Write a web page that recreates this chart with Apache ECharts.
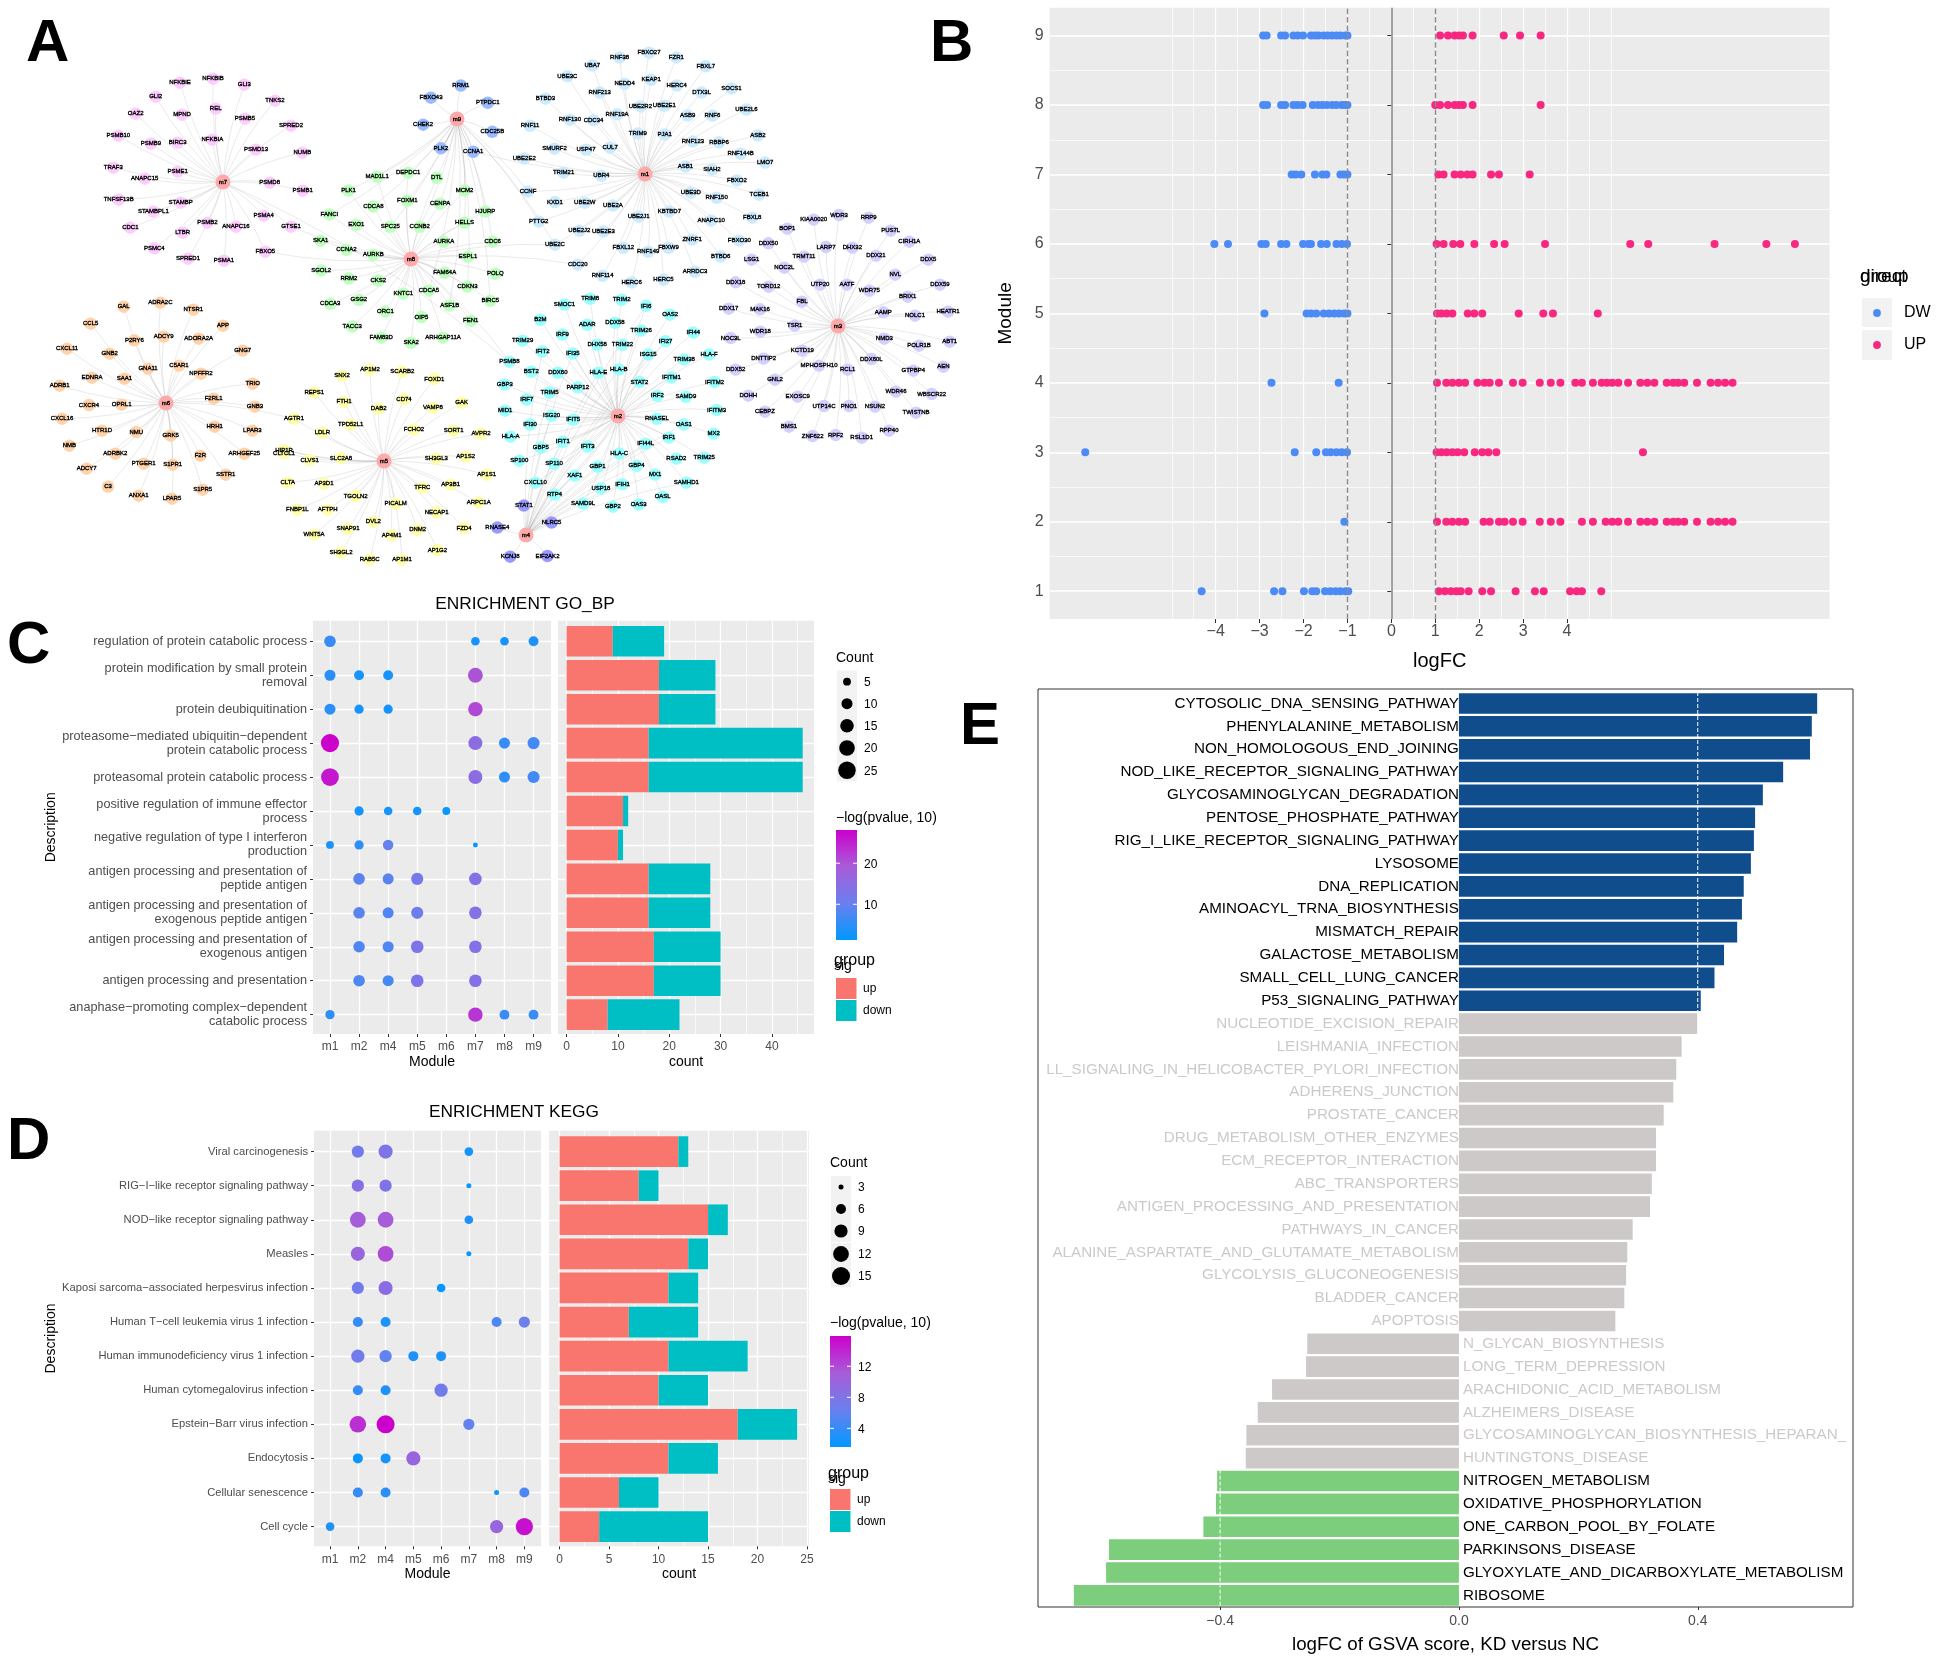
<!DOCTYPE html>
<html><head><meta charset="utf-8">
<style>html,body{margin:0;padding:0;background:#fff}#c{width:1939px;height:1662px}</style>
<script src="https://cdn.jsdelivr.net/npm/echarts@6/dist/echarts.min.js"></script>
</head><body><div id="c"></div>
<script>
const hubs={m1:[645,174],m2:[618,416],m3:[838,326],m4:[526,535],m5:[384,461],m6:[166,403],m7:[223,182],m8:[411,259],m9:[457,119]};
const m7Nodes=[['NFKBIE',540,248],['NFKBIB',639,236],['GLI3',733,254],['TNKS2',825,302],['GLI2',467,290],['REL',647,326],['MPND',546,344],['PSMB5',735,356],['OAZ2',407,341],['SPRED2',873,377],['PSMB10',355,407],['PSMB9',453,431],['BIRC3',533,428],['NFKBIA',637,419],['PSMD13',768,449],['NUMB',907,458],['TRAF3',340,503],['PSME1',533,515],['ANAPC15',434,536],['PSMD8',809,548],['PSMB1',908,572],['TNFSF13B',356,599],['STAMBP',542,608],['STAMBPL1',460,635],['PSMB2',622,668],['PSMA4',791,647],['GTSE1',873,680],['ANAPC16',708,680],['CDC1',391,683],['LTBR',548,698],['PSMC4',463,745],['SPRED1',564,776],['PSMA1',672,782],['FBXO5',796,755]];
const m9Nodes=[['RRM1',388,105],['FBXO43',316,141],['PTPDC1',453,156],['CHEK2',297,221],['CDC25B',464,242],['PLK2',340,291],['CCNA1',418,301]];
const m8Nodes=[['MAD1L1',186,375],['DEPDC1',261,363],['DTL',330,378],['PLK1',117,416],['MCM2',397,416],['FOXM1',259,446],['CENPA',338,455],['CDCA8',177,463],['FANCI',71,487],['HJURP',447,478],['EXO1',136,517],['SPC25',218,523],['CCNB2',289,523],['HELLS',397,511],['SKA1',50,564],['AURKA',347,567],['CDC6',465,567],['CCNA2',112,591],['AURKB',177,606],['ESPL1',405,611],['SGOL2',51,652],['RRM2',118,676],['CKS2',189,682],['FAM64A',349,659],['POLQ',471,662],['CDKN3',404,700],['KNTC1',249,721],['CDCA5',311,712],['BIRC5',459,742],['CDCA3',73,751],['GSG2',142,739],['ASF1B',361,756],['ORC1',206,774],['OIP5',293,790],['FEN1',412,801],['TACC3',126,818],['FAM83D',196,851],['SKA2',268,866],['ARHGAP11A',345,851]];
const m1Nodes=[['FBXO27',842,8],['RNF38',771,22],['FZR1',908,22],['UBA7',705,46],['FBXL7',979,48],['UBE3C',645,78],['KEAP1',847,88],['NEDD4',783,100],['HERC4',909,105],['SOCS1',1041,114],['RNF213',723,126],['DTX3L',969,126],['BTBD3',592,144],['UBE2R2',821,167],['UBE2E1',879,165],['UBE2L6',1077,176],['RNF130',651,206],['CDC34',708,208],['RNF19A',765,190],['ASB9',935,194],['RNF6',995,194],['RNF11',555,224],['TRIM9',815,247],['PJA1',880,250],['ASB2',1105,253],['RNF123',948,271],['RBBP6',1011,273],['SMURF2',614,292],['USP47',690,295],['CUL7',748,289],['RNF144B',1063,307],['UBE2E2',541,321],['LMO7',1122,333],['ASB1',930,345],['SIAH2',994,354],['TRIM21',636,363],['UBR4',727,372],['FBXO2',1054,386],['UBE3D',943,422],['RNF150',1005,437],['TCEB1',1108,428],['CCNF',550,419],['KXD1',615,450],['UBE2W',687,452],['UBE2A',755,460],['KBTBD7',891,478],['UBE2J1',817,493],['FBXL8',1091,496],['ANAPC10',992,505],['PTTG2',576,508],['UBE2J2',674,535],['UBE2E3',732,537],['ZNRF1',946,561],['FBXO30',1060,564],['UBE2C',615,576],['FBXL12',780,585],['RNF149',840,597],['FBXW9',889,585],['BTBD6',1015,611],['CDC20',670,635],['ARRDC3',953,656],['RNF114',730,668],['HERC6',800,688],['HERC5',877,680]];
const m3Nodes=[['WDR3',357,75],['KIAA0020',281,89],['RRP9',446,83],['BOP1',202,116],['PUS7L',512,122],['CIRH1A',568,155],['DDX50',145,160],['LARP7',318,171],['DHX32',397,173],['DDX21',468,197],['TRMT11',252,200],['LSG1',95,209],['DDX5',625,209],['NOC2L',193,233],['NVL',526,254],['DDX18',47,277],['UTP20',300,284],['AATF',381,284],['DDX59',660,284],['TORD12',146,290],['WDR75',448,302],['BRIX1',563,320],['FBL',246,335],['DDX17',26,356],['MAK16',120,358],['AAMP',490,367],['HEATR1',684,365],['NOLC1',585,377],['TSR1',224,407],['WDR18',121,425],['NMD3',493,446],['NOC3L',32,444],['ABT1',689,455],['POLR1B',597,467],['KCTD19',247,482],['DNTTIP2',131,506],['DDX60L',454,507],['MPHOSPH10',297,527],['RCL1',383,539],['GTPBP4',580,542],['AEN',670,530],['DDX52',47,539],['GNL2',165,569],['EXOSC9',233,620],['WDR46',528,605],['WBSCR22',635,612],['DOHH',85,617],['UTP14C',312,648],['PNO1',387,648],['NSUN2',465,650],['CEBPZ',135,665],['TWISTNB',588,668],['BMS1',207,710],['RPP40',507,722],['ZNF622',278,738],['RPF2',347,735],['RSL1D1',425,743]];
const m2Nodes=[['TRIM8',700,736],['TRIM2',776,739],['SMOC1',638,753],['IFI6',835,757],['OAS2',893,783],['B2M',580,798],['ADAR',693,813],['DDX58',760,807],['TRIM26',823,830],['IFI44',949,836],['IRF9',633,842],['TRIM29',537,860],['DHX58',717,872],['TRIM22',778,872],['IFI27',882,862],['IFIT2',585,892],['IFI35',658,898],['ISG15',840,901],['HLA-F',987,901],['TRIM38',927,916],['PSMB8',505,922],['BST2',558,952],['DDX60',622,955],['HLA-E',720,955],['HLA-B',769,945],['IFITM1',896,969],['STAT2',819,982],['IFITM2',1000,982],['GBP3',494,990],['PARP12',670,998],['TRIM5',602,1014],['IRF2',862,1023],['SAMD9',931,1026],['IRF7',547,1034],['MID1',495,1067],['IFITM3',1005,1065],['ISG20',607,1082],['IFIT5',659,1094],['RNASEL',861,1091],['OAS1',926,1108],['IFI30',555,1108],['HLA-A',508,1144],['MX2',998,1135],['IFIT1',634,1159],['IFI44L',834,1165],['IRF1',890,1147],['IFIT3',694,1173],['GBP5',581,1176],['HLA-C',770,1194],['RSAD2',908,1209],['TRIM25',975,1206],['SP100',529,1215],['SP110',613,1224],['GBP1',718,1233],['GBP4',812,1230],['XAF1',663,1259],['MX1',857,1256],['CXCL10',568,1280],['SAMHD1',932,1280],['IFIH1',778,1285],['USP18',726,1297],['RTP4',614,1315],['OASL',875,1322],['SAMD9L',683,1342],['GBP2',755,1351],['OAS3',817,1345]];
const m4Nodes=[['STAT1',540,1348],['RNASE4',476,1413],['NLRC5',607,1398],['KCNJ8',507,1499],['EIF2AK2',597,1497]];
const m5Nodes=[['AP1M2',330,89],['SNX2',246,107],['SCARB2',427,95],['FOXD1',523,117],['REPS1',163,158],['FTH1',252,185],['CD74',432,178],['DAB2',356,206],['VAMP8',519,203],['GAK',605,188],['TPD52L1',272,254],['AGTR1',102,236],['LDLR',187,278],['FCHO2',462,269],['SORT1',581,272],['AVPR2',663,281],['HIP1R',72,330],['CLTCL1',72,340],['CLVS1',149,360],['SLC2A8',243,354],['SH3GL3',529,356],['AP1S2',617,350],['AP1S1',680,404],['CLTA',83,428],['AP3D1',192,431],['AP3B1',572,434],['TFRC',487,443],['TGOLN2',287,468],['ARPC1A',656,488],['PICALM',407,491],['NECAP1',530,517],['FNBP1L',112,509],['AFTPH',203,509],['DVL2',340,545],['SNAP91',264,566],['FZD4',612,564],['DNM2',473,569],['AP4M1',395,586],['WNT5A',162,584],['AP1G2',532,630],['SH3GL2',243,638],['RAB5C',329,659],['AP1M1',426,659]];
const m6Nodes=[['GAL',371,80],['ADRA2C',481,68],['NTSR1',580,89],['APP',669,137],['CCL5',272,131],['P2RY6',403,181],['ADCY9',491,170],['ADORA2A',596,176],['GNG7',728,212],['CXCL11',201,206],['GNB2',329,221],['GNA11',444,266],['C5AR1',537,257],['NPFFR2',603,281],['EDNRA',276,293],['SAA1',373,296],['TRIO',758,311],['ADRB1',179,317],['F2RL1',641,356],['OPRL1',365,374],['CXCR4',267,375],['GNB3',765,380],['CXCL16',186,416],['HRH1',644,440],['LPAR3',757,452],['HTR1D',306,452],['NMU',409,456],['GRK5',512,467],['NMB',208,497],['ADRBK2',346,521],['F2R',601,527],['ARHGEF25',733,521],['PTGER1',431,551],['S1PR1',518,554],['ADCY7',260,566],['SSTR1',677,584],['C3',324,620],['S1PR5',608,629],['ANXA1',416,647],['LPAR5',516,656]];
const m9ToM8=['DTL','MCM2','FOXM1','CENPA','HELLS','DEPDC1','PLK1','MAD1L1','CCNB2','SPC25','ASF1B','CDC6','CDKN3','CDCA5','BIRC5','HJURP','CCNA1','PLK2','CDCA8','FANCI'];
const m4ToM2=['RTP4','SP110','IFIT1','IFIT3','ISG20','TRIM5','USP18','GBP1','XAF1','HLA-C','MX1','SAMHD1','IFIH1','IFI44L','IRF1','GBP4','OAS1','STAT2','HLA-B','HLA-E','ISG15','IFITM1','IFI27','IFI6','IFIT2','IFI35'];
const otherEdges=[['GTSE1','m8'],['FBXO5','m8'],['UBE2C','m8'],['CDC20','m8'],['CCNF','m9'],['PTTG2','m9'],['UBE2C','m9'],['PSMB8','m8'],['AGTR1','m6'],['HIP1R','m5'],['PSMB8','m7'],['CCNA1','m1']];

// ---------- Panel B: logFC per module
const bRows=[1,2,3,4,5,6,7,8,9];
const bDW={
 9:[-2.92,-2.84,-2.51,-2.42,-2.23,-2.13,-2.01,-1.83,-1.74,-1.66,-1.54,-1.45,-1.35,-1.25,-1.16,-1.05,-1.0],
 8:[-2.92,-2.83,-2.51,-2.42,-2.23,-2.13,-2.02,-1.79,-1.67,-1.57,-1.47,-1.35,-1.25,-1.13,-1.05,-1.0],
 7:[-2.27,-2.18,-2.05,-1.74,-1.57,-1.48,-1.16,-1.08,-1.0],
 6:[-4.03,-3.72,-2.96,-2.86,-2.51,-2.39,-2.01,-1.89,-1.83,-1.6,-1.47,-1.25,-1.13,-1.01],
 5:[-2.89,-1.93,-1.83,-1.71,-1.54,-1.42,-1.3,-1.19,-1.07,-1.0],
 4:[-2.73,-1.2],
 3:[-6.97,-2.2,-1.71,-1.49,-1.38,-1.25,-1.13,-1.01],
 2:[-1.07],
 1:[-4.32,-2.67,-2.48,-1.99,-1.8,-1.71,-1.51,-1.39,-1.27,-1.16,-1.04,-0.98]};
const bUP={
 9:[1.11,1.29,1.44,1.54,1.63,1.85,2.56,2.93,3.40],
 8:[1.0,1.11,1.29,1.44,1.54,1.63,1.85,3.40],
 7:[1.07,1.19,1.44,1.58,1.73,1.85,2.27,2.45,3.15],
 6:[1.03,1.19,1.41,1.57,1.89,2.34,2.58,3.5,5.44,5.85,7.36,8.54,9.19],
 5:[1.04,1.14,1.26,1.39,1.74,1.89,2.07,2.9,3.46,3.68,4.7],
 4:[1.04,1.25,1.39,1.54,1.68,1.96,2.12,2.24,2.45,2.77,2.99,3.38,3.63,3.85,4.19,4.34,4.59,4.79,4.91,5.03,5.17,5.39,5.67,5.83,5.99,6.27,6.42,6.53,6.67,6.96,7.27,7.44,7.6,7.77],
 3:[1.03,1.14,1.26,1.39,1.51,1.66,1.9,2.07,2.21,2.39,5.73],
 2:[1.04,1.25,1.39,1.54,1.68,2.1,2.24,2.45,2.58,2.77,2.99,3.38,3.63,3.85,4.34,4.59,4.88,5.03,5.17,5.39,5.67,5.83,5.99,6.27,6.42,6.53,6.67,6.96,7.27,7.44,7.6,7.77],
 1:[1.08,1.22,1.36,1.48,1.58,1.76,2.07,2.27,2.83,3.27,3.47,4.07,4.22,4.34,4.78]};
const bTicks=[-4,-3,-2,-1,0,1,2,3,4];
const bMinorX=[-5,-4.5,-3.5,-2.5,-1.5,-0.5,0.5,1.5,2.5,3.5,4.5,5];
const bMinorY=[1.5,2.5,3.5,4.5,5.5,6.5,7.5,8.5];

// ---------- Panel C: GO BP enrichment
const modules=['m1','m2','m4','m5','m6','m7','m8','m9'];
const goTerms=['regulation of protein catabolic process','protein modification by small protein\nremoval','protein deubiquitination','proteasome\u2212mediated ubiquitin\u2212dependent\nprotein catabolic process','proteasomal protein catabolic process','positive regulation of immune effector\nprocess','negative regulation of type I interferon\nproduction','antigen processing and presentation of\npeptide antigen','antigen processing and presentation of\nexogenous peptide antigen','antigen processing and presentation of\nexogenous antigen','antigen processing and presentation','anaphase\u2212promoting complex\u2212dependent\ncatabolic process'];
// [term number, module, count, -log10 p]
const goDots=[[1,'m1',11,6],[1,'m7',6,3],[1,'m8',6,3],[1,'m9',8,4],[2,'m1',10,5],[2,'m2',8,3],[2,'m4',8,3],[2,'m7',18,20],[3,'m1',10,5],[3,'m2',7,3],[3,'m4',7,3],[3,'m7',17,21],[4,'m1',27,28],[4,'m7',16,15],[4,'m8',10,6],[4,'m9',12,7],[5,'m1',26,26],[5,'m7',16,15],[5,'m8',10,5],[5,'m9',12,7],[6,'m2',7,3],[6,'m4',6,3],[6,'m5',6,3],[6,'m6',5,2],[7,'m1',5,3.5],[7,'m2',7,5],[7,'m4',9,10],[7,'m7',2,2],[8,'m2',11,9],[8,'m4',10,9],[8,'m5',12,12],[8,'m7',13,14],[9,'m2',11,9],[9,'m4',10,8],[9,'m5',12,11],[9,'m7',13,14],[10,'m2',11,8],[10,'m4',10,8],[10,'m5',13,13],[10,'m7',13,14],[11,'m2',11,8],[11,'m4',10,7],[11,'m5',13,13],[11,'m7',13,14],[12,'m1',7,5],[12,'m7',17,23],[12,'m8',8,6],[12,'m9',8,6]];
const goUp=[9,18,18,16,16,11,10,16,16,17,17,8];
const goDown=[10,11,11,30,30,1,1,12,12,13,13,14];
const goCountTicks=[0,10,20,30,40];
const goCountMinor=[5,15,25,35,45];
const goSizeLegend=[5,10,15,20,25];

// ---------- Panel D: KEGG enrichment
const keggTerms=['Viral carcinogenesis','RIG\u2212I\u2212like receptor signaling pathway','NOD\u2212like receptor signaling pathway','Measles','Kaposi sarcoma\u2212associated herpesvirus infection','Human T\u2212cell leukemia virus 1 infection','Human immunodeficiency virus 1 infection','Human cytomegalovirus infection','Epstein\u2212Barr virus infection','Endocytosis','Cellular senescence','Cell cycle'];
const keggDots=[[1,'m2',8,7],[1,'m4',10,8],[1,'m7',5,2.5],[2,'m2',8,8.5],[2,'m4',8,8],[2,'m7',3,2],[3,'m2',12,11],[3,'m4',12,11],[3,'m7',5,3],[4,'m2',10,10],[4,'m4',12,12],[4,'m7',3,2],[5,'m2',8,7],[5,'m4',10,9],[5,'m6',5,2],[6,'m2',6,4],[6,'m4',6,3],[6,'m8',6,5],[6,'m9',7,6.5],[7,'m2',9,7],[7,'m4',8,6],[7,'m5',6,3],[7,'m6',6,3],[8,'m2',6,4],[8,'m4',6,3],[8,'m6',9,7],[9,'m2',13,13.5],[9,'m4',15,15.9],[9,'m7',7,6],[10,'m2',6,2],[10,'m4',6,2.5],[10,'m5',10,10],[11,'m2',6,4],[11,'m4',6,3.5],[11,'m8',3,2],[11,'m9',6,5],[12,'m1',5,3],[12,'m8',9,10],[12,'m9',14,15]];
const keggUp=[12,8,15,13,11,7,11,10,18,11,6,4];
const keggDown=[1,2,2,2,3,7,8,5,6,5,4,11];
const keggCountTicks=[0,5,10,15,20,25];
const keggCountMinor=[2.5,7.5,12.5,17.5,22.5];
const keggSizeLegend=[3,6,9,12,15];

// ---------- Panel E: GSVA
const gsvaNames=['CYTOSOLIC_DNA_SENSING_PATHWAY','PHENYLALANINE_METABOLISM','NON_HOMOLOGOUS_END_JOINING','NOD_LIKE_RECEPTOR_SIGNALING_PATHWAY','GLYCOSAMINOGLYCAN_DEGRADATION','PENTOSE_PHOSPHATE_PATHWAY','RIG_I_LIKE_RECEPTOR_SIGNALING_PATHWAY','LYSOSOME','DNA_REPLICATION','AMINOACYL_TRNA_BIOSYNTHESIS','MISMATCH_REPAIR','GALACTOSE_METABOLISM','SMALL_CELL_LUNG_CANCER','P53_SIGNALING_PATHWAY','NUCLEOTIDE_EXCISION_REPAIR','LEISHMANIA_INFECTION','LL_SIGNALING_IN_HELICOBACTER_PYLORI_INFECTION','ADHERENS_JUNCTION','PROSTATE_CANCER','DRUG_METABOLISM_OTHER_ENZYMES','ECM_RECEPTOR_INTERACTION','ABC_TRANSPORTERS','ANTIGEN_PROCESSING_AND_PRESENTATION','PATHWAYS_IN_CANCER','ALANINE_ASPARTATE_AND_GLUTAMATE_METABOLISM','GLYCOLYSIS_GLUCONEOGENESIS','BLADDER_CANCER','APOPTOSIS','N_GLYCAN_BIOSYNTHESIS','LONG_TERM_DEPRESSION','ARACHIDONIC_ACID_METABOLISM','ALZHEIMERS_DISEASE','GLYCOSAMINOGLYCAN_BIOSYNTHESIS_HEPARAN_SULFATE','HUNTINGTONS_DISEASE','NITROGEN_METABOLISM','OXIDATIVE_PHOSPHORYLATION','ONE_CARBON_POOL_BY_FOLATE','PARKINSONS_DISEASE','GLYOXYLATE_AND_DICARBOXYLATE_METABOLISM','RIBOSOME'];
const gsvaValues=[.6,.591,.588,.543,.509,.496,.494,.489,.477,.474,.466,.444,.428,.405,.399,.373,.364,.359,.343,.330,.330,.323,.320,.291,.282,.280,.277,.262,-.254,-.256,-.313,-.337,-.356,-.357,-.405,-.407,-.428,-.586,-.591,-.645];
const gsvaGroups=[14,20,6];   // up-significant, not significant, down-significant
const gsvaTicks=[-0.4,0,0.4];
// threshold lines: [score, first row edge, last row edge]
const gsvaThresholds=[[0.4,0.5,14.5],[-0.4,34.5,40.5]];

// ---------- styling
const FONT='"Liberation Sans", Arial, sans-serif';
const GREY='#4d4d4d', PANEL='#EBEBEB', KEY='#F2F2F2';
const UPC='#F8766D', DOWNC='#00BFC4';
const DWC='#4C8BF5', UPP='#F8277F';
const RAMP=['#0099FF','#6A80EE','#A85CD8','#CC00CC'];
const MOD={m1:'#CCEBFF',m2:'#99FFFF',m3:'#D3D0FF',m4:'#9999FF',m5:'#FFFFAA',m6:'#FFD2AA',m7:'#FFCCFF',m8:'#BFFFBF',m9:'#99BBFF'};

// ---------- network build
const T={z1:[0,0,1/3,1/3],z2:[300,50,.4145,.338],z7:[0,280,1/3,1/3],z8:[260,340,1/3,1/3],z10:[720,190,1/3,1/3]};
const nodes=[],links=[],idx={};
Object.keys(hubs).forEach(h=>{idx[h]=nodes.length;nodes.push({id:h,name:h,value:hubs[h],symbolSize:15,itemStyle:{color:'#FFAAAA'}});});
function addModule(h,list,t){list.forEach(n=>{idx[n[0]]=nodes.length;
  nodes.push({id:n[0],name:n[0],value:[t[0]+n[1]*t[2],t[1]+n[2]*t[3]],symbolSize:12.5,itemStyle:{color:MOD[h]}});
  links.push({source:idx[h],target:idx[n[0]]});});}
addModule('m7',m7Nodes,T.z1);addModule('m9',m9Nodes,T.z2);addModule('m8',m8Nodes,T.z2);addModule('m1',m1Nodes,T.z2);
addModule('m3',m3Nodes,T.z10);addModule('m2',m2Nodes,T.z2);addModule('m4',m4Nodes,T.z2);addModule('m5',m5Nodes,T.z8);addModule('m6',m6Nodes,T.z7);
m9ToM8.forEach(g=>links.push({source:idx.m9,target:idx[g]}));
m4ToM2.forEach(g=>links.push({source:idx.m4,target:idx[g]}));
otherEdges.forEach(e=>links.push({source:idx[e[1]],target:idx[e[0]]}));

// ---------- helpers
const grids=[],xAxes=[],yAxes=[],series=[],vms=[],gfx=[];
function addGrid(l,t,w,h,bg,extra){grids.push(Object.assign({left:l,top:t,width:w,height:h,containLabel:false,show:!!bg,backgroundColor:bg||'transparent',borderWidth:0},extra||{}));return grids.length-1;}
const hideAx=(g,min,max,extra)=>Object.assign({type:'value',gridIndex:g,min,max,show:false},extra||{});
function minor(g,min,max,vals,dir){const a={type:'value',gridIndex:g,min,max,silent:true,axisLine:{show:false},axisLabel:{show:false},
   axisTick:{show:false,customValues:vals},splitLine:{show:true,lineStyle:{color:'#fff',width:.7}}};
  if(dir==='y')a.position='right'; else a.position='top'; return a;}
function mainAx(g,min,max,vals,o){o=o||{};return {type:'value',gridIndex:g,min,max,inverse:!!o.inverse,position:o.position,
   name:o.name,nameLocation:'middle',nameGap:o.gap,nameRotate:o.rot,nameTextStyle:{fontFamily:FONT,fontSize:o.nameSize||14,color:'#000'},
   axisLine:{show:false},axisTick:{show:true,length:o.tick||3,customValues:vals,lineStyle:{color:'#333',width:1}},
   axisLabel:{show:true,customValues:vals,hideOverlap:false,showMinLabel:true,showMaxLabel:true,interval:0,margin:o.margin||5,fontFamily:FONT,fontSize:o.size||12,color:GREY,lineHeight:o.lh||14,formatter:o.fmt||(v=>String(v))},
   splitLine:{show:o.split!==false,lineStyle:{color:'#fff',width:o.w||1.3}}};}
function txt(s,x,y,size,o){o=o||{};gfx.push({type:'text',x,y,z:20,rotation:o.rot||0,silent:true,style:{text:s,fontFamily:FONT,fontSize:size,fontWeight:o.weight||'normal',fill:o.color||'#000',align:o.align||'left',textAlign:o.align||'left',verticalAlign:'middle',textVerticalAlign:'middle'}});}
function rect(x,y,w,h,fill){gfx.push({type:'rect',z:15,silent:true,shape:{x,y,width:w,height:h},style:{fill}});}
function circ(cx,cy,r,fill){gfx.push({type:'circle',z:16,silent:true,shape:{cx,cy,r},style:{fill}});}
function ramp(x,y,w,h){gfx.push({type:'rect',z:15,silent:true,shape:{x,y,width:w,height:h},style:{fill:{type:'linear',x:0,y:1,x2:0,y2:0,colorStops:RAMP.map((c,i)=>({offset:i/(RAMP.length-1),color:c}))}}});}

// ---------- A
const gA=addGrid(0,0,1000,590);
xAxes.push(hideAx(gA,0,1000));yAxes.push(hideAx(gA,0,590,{inverse:true}));
series.push({type:'graph',coordinateSystem:'cartesian2d',xAxisIndex:xAxes.length-1,yAxisIndex:yAxes.length-1,layout:'none',roam:false,silent:true,nodeScaleRatio:0,
  data:nodes,links:links,symbol:'circle',edgeSymbol:['none','none'],
  label:{show:true,position:'inside',fontSize:6,fontFamily:FONT,color:'#000',textBorderWidth:.35,textBorderColor:'#000',formatter:'{b}'},
  lineStyle:{color:'#888',width:.6,opacity:.3,curveness:.07},z:2});

// ---------- B
const gB=addGrid(1049.7,7.8,779.9,611.2,PANEL);
const bX=[-7.78,9.98],bY=[0.6,9.4];
xAxes.push(mainAx(gB,bX[0],bX[1],bTicks,{name:'logFC',nameSize:20,gap:32,size:16,margin:6,tick:4,fmt:v=>v<0?'\u2212'+(-v):String(v),w:1.2}));
const bx=xAxes.length-1;
yAxes.push(mainAx(gB,bY[0],bY[1],bRows,{name:'Module',nameSize:19,gap:34,rot:90,size:16,margin:6,tick:4,w:1.6}));
const by=yAxes.length-1;
xAxes.push(minor(gB,bX[0],bX[1],bMinorX,'x'));yAxes.push(minor(gB,bY[0],bY[1],bMinorY,'y'));
const bPts=o=>bRows.flatMap(r=>o[r].map(v=>[v,r]));
series.push({name:'DW',type:'scatter',xAxisIndex:bx,yAxisIndex:by,symbolSize:8,silent:true,itemStyle:{color:DWC,opacity:1},data:bPts(bDW),z:3,
  markLine:{silent:true,symbol:'none',label:{show:false},animation:false,data:[{xAxis:0,lineStyle:{color:'#8c8c8c',type:'solid',width:1.6}},{xAxis:-1,lineStyle:{color:'#8c8c8c',type:'dashed',width:1.4}},{xAxis:1,lineStyle:{color:'#8c8c8c',type:'dashed',width:1.4}}]}});
series.push({name:'UP',type:'scatter',xAxisIndex:bx,yAxisIndex:by,symbolSize:8,silent:true,itemStyle:{color:UPP,opacity:1},data:bPts(bUP),z:3});
txt('direct',1860,277,19);txt('group',1860,277,19);
rect(1862,298,30,29,KEY);rect(1862,330,30,30,KEY);circ(1877,313,3.9,DWC);circ(1877,345,3.9,UPP);
txt('DW',1904,313,16);txt('UP',1904,345,16);

// ---------- C / D builder
function enrich(c){
  const g1=addGrid(c.dot[0],c.top,c.dot[1]-c.dot[0],c.bot-c.top,PANEL);
  const rmin=1-(c.row1-c.top)/c.band, rmax=1+(c.bot-c.row1)/c.band;
  const mv=modules.map((m,i)=>i+1);
  xAxes.push(mainAx(g1,c.mx[0],c.mx[1],mv,{name:'Module',gap:c.gapX,size:12,fmt:v=>modules[v-1],margin:6}));
  const xi=xAxes.length-1;
  yAxes.push(mainAx(g1,rmin,rmax,c.terms.map((t,i)=>i+1),{inverse:true,size:c.ysize,lh:14,fmt:v=>c.terms[v-1],margin:6,name:'Description',gap:c.gapY,rot:90}));
  const yi=yAxes.length-1;
  series.push({type:'scatter',xAxisIndex:xi,yAxisIndex:yi,silent:true,z:3,itemStyle:{opacity:1},
    data:c.dots.map(d=>[modules.indexOf(d[1])+1,d[0],d[2],d[3]]),symbolSize:v=>c.size(v[2])});
  vms.push({type:'continuous',show:false,seriesIndex:series.length-1,dimension:3,min:c.p[0],max:c.p[1],inRange:{color:RAMP}});
  // bars: background frame
  const g2=addGrid(c.bar[0],c.top,c.bar[1]-c.bar[0],c.bot-c.top,PANEL);
  xAxes.push(mainAx(g2,c.cx[0],c.cx[1],c.cticks,{name:'count',gap:c.gapX-3,size:12,margin:6}));
  yAxes.push(mainAx(g2,rmin,rmax,c.terms.map((t,i)=>i+1),{inverse:true,fmt:()=>''}));
  yAxes[yAxes.length-1].axisTick.show=false;yAxes[yAxes.length-1].axisLabel.show=false;
  xAxes.push(minor(g2,c.cx[0],c.cx[1],c.cminor,'x'));
  // bars: stacked series on band axis
  const g3=addGrid(c.bar[0],c.row1-c.band/2,c.bar[1]-c.bar[0],c.band*c.terms.length);
  xAxes.push(hideAx(g3,c.cx[0],c.cx[1]));const bxi=xAxes.length-1;
  yAxes.push({type:'category',gridIndex:g3,show:false,inverse:true,data:c.terms});const byi=yAxes.length-1;
  [['up',c.up,UPC],['down',c.down,DOWNC]].forEach(s=>series.push({name:s[0],type:'bar',stack:c.id,xAxisIndex:bxi,yAxisIndex:byi,silent:true,barWidth:c.band*.9,itemStyle:{color:s[2]},data:s[1],z:3}));
  // title
  txt(c.title,c.tx,c.ty+1,17.3,{align:'center'});
  // legends
  const L=c.leg;
  txt('Count',L.x,L.countY+1,14);
  c.sizes.forEach((s,i)=>{rect(L.x+1,L.sy[i]-11,20,22,KEY);circ(L.x+11,L.sy[i],c.size(s)/2,'#000');txt(String(s),L.x+28,L.sy[i]+1,12,{});});
  txt('\u2212log(pvalue, 10)',L.x,L.pY+1,14);
  ramp(L.x,L.cb[0],21,L.cb[1]-L.cb[0]);
  L.pt.forEach(p=>{const y=L.cb[1]-(p-c.p[0])/(c.p[1]-c.p[0])*(L.cb[1]-L.cb[0]);
    gfx.push({type:'line',z:17,silent:true,shape:{x1:L.x,y1:y,x2:L.x+4,y2:y},style:{stroke:'#fff',lineWidth:1}});
    gfx.push({type:'line',z:17,silent:true,shape:{x1:L.x+17,y1:y,x2:L.x+21,y2:y},style:{stroke:'#fff',lineWidth:1}});
    txt(String(p),L.x+28,y+1,12);});
  txt('sig',L.x-2,L.gY+5,14);txt('group',L.x-2,L.gY,16);
  rect(L.x,L.k1,20.5,21,UPC);rect(L.x,L.k1+22,20.5,21,DOWNC);
  txt('up',L.x+27,L.k1+11,12);txt('down',L.x+27,L.k1+33,12);
}
enrich({id:'go',title:'ENRICHMENT GO_BP',tx:525,ty:603,terms:goTerms,dots:goDots,up:goUp,down:goDown,
  dot:[313,551],bar:[558,814],top:620.7,bot:1034,row1:641.3,band:33.94,mx:[.416,8.6],
  cx:[-1.67,48.2],cticks:goCountTicks,cminor:goCountMinor,gapX:19,gapY:255,ysize:12.7,p:[1.3,28.1],
  size:c=>3.5*Math.sqrt(c),sizes:goSizeLegend,
  leg:{x:836,countY:657,sy:[681.7,703.7,725.7,748,770.3],pY:816.7,cb:[830,940],pt:[20,10],gY:961,k1:978}});
enrich({id:'kegg',title:'ENRICHMENT KEGG',tx:514,ty:1111,terms:keggTerms,dots:keggDots,up:keggUp,down:keggDown,
  dot:[314,541],bar:[549,809],top:1130.7,bot:1546.3,row1:1151.6,band:34.09,mx:[.42,8.6],
  cx:[-1.07,25.2],cticks:keggCountTicks,cminor:keggCountMinor,gapX:19,gapY:256,ysize:11.2,p:[1.6,15.9],
  size:c=>Math.sqrt(Math.max(25*c-50,16)),sizes:keggSizeLegend,
  leg:{x:830,countY:1162,sy:[1187,1209,1231,1254,1276],pY:1322,cb:[1336,1447],pt:[12,8,4],gY:1474,k1:1489}});

// ---------- E
const gE=addGrid(1038,689,815,918,'#fff',{borderWidth:1,borderColor:'#333'});
const eX=[-.705,.660];
xAxes.push(Object.assign(mainAx(gE,eX[0],eX[1],gsvaTicks,{name:'logFC of GSVA score, KD versus NC',nameSize:18.75,gap:28,size:14,margin:7,split:false,fmt:v=>v<0?'\u2212'+(-v).toFixed(1):v.toFixed(1)})));
yAxes.push(hideAx(gE,0,1));
const gE2=addGrid(1038,692,815,40*22.87);
xAxes.push(hideAx(gE2,eX[0],eX[1]));const exi=xAxes.length-1;
yAxes.push({type:'category',gridIndex:gE2,show:false,inverse:true,data:gsvaNames});const eyi=yAxes.length-1;
yAxes.push(hideAx(gE2,.5,40.5,{inverse:true}));const eyv=yAxes.length-1;
const gsvaStyle=i=>{const a=gsvaGroups[0],b=a+gsvaGroups[1];
  return i<a?{bar:'#0F4D8C',text:'#000'}:i<b?{bar:'#CDC9C9',text:'#CDC9C9'}:{bar:'#7CCD7C',text:'#000'};};
series.push({type:'bar',xAxisIndex:exi,yAxisIndex:eyi,silent:true,barWidth:20.6,z:3,
  data:gsvaValues.map((v,i)=>{const s=gsvaStyle(i);return {name:gsvaNames[i],value:v,itemStyle:{color:s.bar},
    label:{show:true,position:v>0?'left':'right',distance:v>0?0:4,formatter:'{b}',fontFamily:FONT,fontSize:15.2,color:s.text,width:v>0?450:392,overflow:'truncate',ellipsis:''}};})});
gsvaThresholds.forEach(t=>series.push({type:'line',xAxisIndex:exi,yAxisIndex:eyv,silent:true,z:5,symbol:'none',lineStyle:{color:'#fff',type:'dashed',width:1},data:[[t[0],t[1]],[t[0],t[2]]]}));

// ---------- letters
[['A',26,44],['B',930,44],['C',7,646],['D',7,1142],['E',960,727]].forEach(l=>txt(l[0],l[1],l[2],60,{weight:'bold'}));

const chart=echarts.init(document.getElementById('c'),null,{renderer:'canvas',width:1939,height:1662});
chart.setOption({animation:false,backgroundColor:'#fff',textStyle:{fontFamily:FONT},grid:grids,xAxis:xAxes,yAxis:yAxes,series:series,visualMap:vms,graphic:{elements:gfx}});
</script></body></html>
